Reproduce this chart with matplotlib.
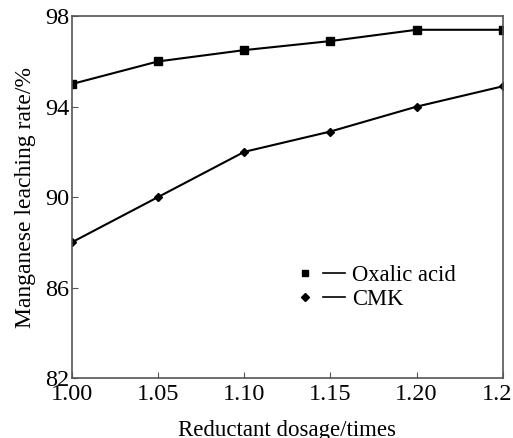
import matplotlib
matplotlib.use('Agg')
import matplotlib.pyplot as plt
from matplotlib.lines import Line2D
from matplotlib.legend_handler import HandlerTuple

dosage = [1.00, 1.05, 1.10, 1.15, 1.20, 1.25]
oxalic = [95.0, 96.0, 96.5, 96.9, 97.4, 97.4]
cmk = [88.0, 90.0, 92.0, 92.9, 94.0, 94.9]

plt.rcParams['font.family'] = 'Liberation Serif'

fig = plt.figure(figsize=(5.13, 4.38), dpi=100)
ax = fig.add_axes([0.140, 0.137, 0.840, 0.826])

ax.plot(dosage, oxalic, color='black', lw=1.5, marker='s', ms=6)
ax.plot(dosage, cmk, color='black', lw=1.5, marker='D', ms=4.5)

ax.set_xlim(1.0, 1.25)
ax.set_ylim(82, 98)
ax.set_xticks(dosage)
ax.set_xticklabels(['1.00', '1.05', '1.10', '1.15', '1.20', '1.25'])
ax.set_yticks([82, 86, 90, 94, 98])
ax.tick_params(direction='in', length=4, labelsize=17.5, color='#555555')
ax.tick_params(axis='x', pad=4)
ax.tick_params(axis='y', pad=2)
for s in ax.spines.values():
    s.set_color('#555555')
    s.set_linewidth(1.2)

ax.set_xlabel('Reductant dosage/times', fontsize=16.5, labelpad=11)
ax.set_ylabel('Manganese leaching rate/%', fontsize=17, labelpad=6)

h1 = (Line2D([], [], color='black', marker='s', ms=5, ls='none'),
      Line2D([], [], color='black', lw=1.2))
h2 = (Line2D([], [], color='black', marker='D', ms=4, ls='none'),
      Line2D([], [], color='black', lw=1.2))
ax.legend([h1, h2], ['Oxalic acid', 'CMK'],
          handler_map={tuple: HandlerTuple(ndivide=None, pad=0.3)},
          loc='center left', bbox_to_anchor=(0.488, 0.25), frameon=False,
          fontsize=16.3, handlelength=2.3, handletextpad=0.3, labelspacing=0.1,
          borderpad=0)

fig.savefig('out.png', dpi=100)
